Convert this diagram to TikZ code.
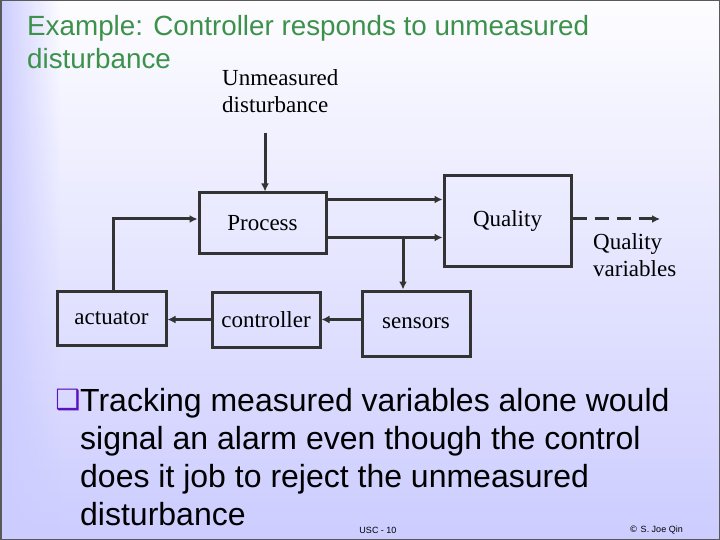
\documentclass[tikz,border=0pt]{standalone}
\usepackage{fontspec}
\setmainfont{Liberation Serif}
\setsansfont{Liberation Sans}
\newfontfamily\symfont{DejaVu Sans}
\usepackage{xcolor}
\usepackage{tikz}
\definecolor{titlegreen}{RGB}{60,145,75}
\definecolor{lavender}{RGB}{204,204,255}
\definecolor{linegray}{RGB}{51,51,51}
\definecolor{bulletpurple}{RGB}{90,20,190}
\usetikzlibrary{arrows.meta,calc,fadings}

\begin{document}
\begin{tikzpicture}[x=1pt, y=-1pt,
    box/.style={rectangle, draw=linegray, line width=3pt, inner sep=0pt, font=\fontsize{23}{27}\selectfont},
    label/.style={inner sep=0pt, align=left, font=\fontsize{23}{27}\selectfont},
    arr/.style={draw=linegray, line width=3pt, -{Latex[length=8pt,width=8pt]}},
    heading/.style={inner sep=0pt, align=left, text=titlegreen, font=\sffamily\fontsize{27.8}{33}\selectfont},
    bullettext/.style={inner sep=0pt, align=left, font=\sffamily\fontsize{32}{38}\selectfont},
    footer/.style={inner sep=0pt, font=\sffamily\fontsize{9}{10}\selectfont}
]
\useasboundingbox (0,0) rectangle (720,540);

% slide background
\shade[top color=white!96!lavender, bottom color=lavender] (0,0) rectangle (720,540);
\fill[lavender, path fading=east] (0,0) rectangle (60,540);
\draw[gray!70!black, line width=1.5pt] (0.75,0.75) rectangle (719.25,539.25);

\node[heading, anchor=north west] (title) at (27,15)
    {Example: Controller responds to unmeasured\\disturbance};

% blocks
\node[box, minimum width=127pt, minimum height=60pt] (proc) at (262.5,223) {Process};
\node[box, minimum width=127pt, minimum height=90pt] (qual) at (507.5,221) {Quality};
\node[box, minimum width=109pt, minimum height=54pt] (act) at (111.5,318) {actuator};
\node[box, minimum width=108pt, minimum height=55pt] (ctrl) at (266,319.5) {controller};
\node[box, minimum width=108pt, minimum height=65pt] (sens) at (416,323.5) {sensors};

\node[label, anchor=north west] (dist) at (222,69) {Unmeasured\\disturbance};
\node[label, anchor=north west] (qvar) at (593,233) {Quality\\variables};

% signals
\coordinate (dtop) at (265,133);
\coordinate (br) at (403,236);
\coordinate (qout) at (660,219);
\draw[arr] (dtop) -- (dtop |- proc.north);
\draw[arr] ([yshift=-8pt]proc.north east) -- ([yshift=-8pt]proc.north east -| qual.west);
\draw[arr] ([yshift=17pt]proc.south east) -- ([yshift=17pt]proc.south east -| qual.west);
\draw[arr] (br) -- (br |- sens.north);
\draw[arr] (sens.west |- ctrl.east) -- (ctrl.east);
\draw[arr] (ctrl.west) -- (ctrl.west -| act.east);
\draw[arr] ([xshift=1.5pt]act.north) |- ([yshift=4pt]proc.west);
\draw[arr, dash pattern=on 14pt off 8pt] (qual.east |- qout) -- (qout);

% bullet
\node[inner sep=0pt, text=bulletpurple, font=\symfont\fontsize{28}{28}\selectfont] (bul) at (68,400) {❑};
\node[bullettext, anchor=north west] (note) at (80,388)
    {Tracking measured variables alone would\\signal an alarm even though the control\\does it job to reject the unmeasured\\disturbance};

\node[footer] (page) at (378,530) {USC - 10};
\node[footer] (copy) at (656,530) {\symfont ©\sffamily{} S. Joe Qin};
\end{tikzpicture}
\end{document}
